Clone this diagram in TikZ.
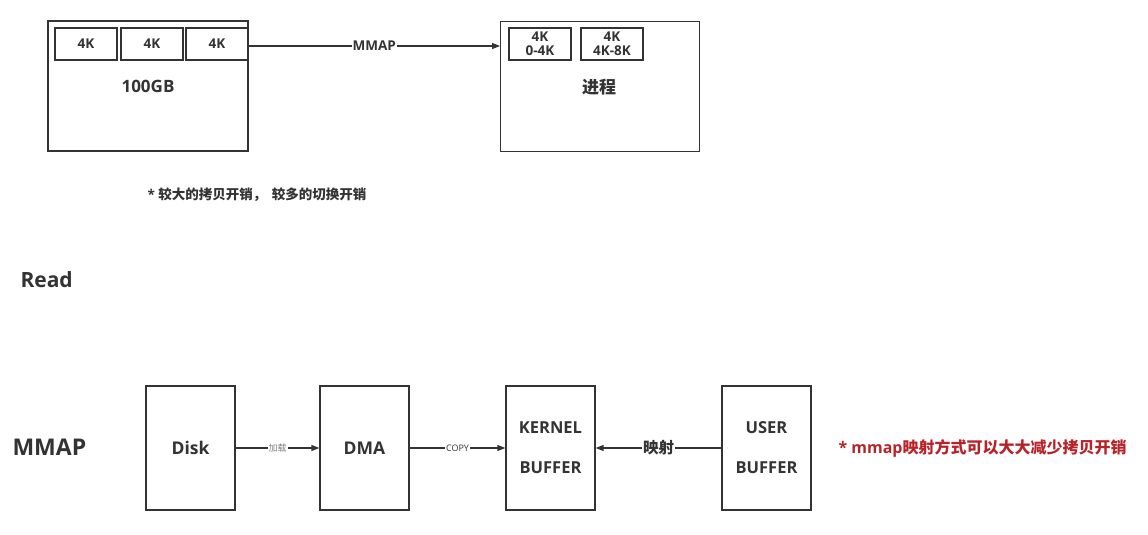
\documentclass[tikz,border=0pt]{standalone}
\usepackage{fontspec}
\setmainfont{Open Sans}
\newfontfamily\cjk{Noto Sans CJK SC}
\usetikzlibrary{arrows.meta}
\definecolor{ink}{HTML}{333333}
\definecolor{note}{HTML}{B8232A}
\tikzset{
  box/.style={draw=ink, line width=1.2pt, fill=white},
  lbl/.style={text=ink, font=\bfseries},
  conn/.style={draw=ink, line width=1.2pt, -{Triangle[length=8pt,width=6pt]}},
  onl/.style={fill=white, inner sep=1pt, text=ink},
}
\begin{document}
\begin{tikzpicture}[x=1pt,y=-1pt]
\useasboundingbox (0,0) rectangle (1148,535);
% top-left block
\draw[box] (48,21) rectangle (248,151);
\node[lbl, font=\bfseries\fontsize{17}{19}\selectfont] (gb) at (148,86) {100GB};
\node[box, minimum width=62pt, minimum height=32pt, lbl, font=\bfseries\fontsize{13.5}{15}\selectfont] (k1) at (86,44) {4K};
\node[box, minimum width=62pt, minimum height=32pt, lbl, font=\bfseries\fontsize{13.5}{15}\selectfont] (k2) at (152,44) {4K};
\node[box, minimum width=62pt, minimum height=32pt, lbl, font=\bfseries\fontsize{13.5}{15}\selectfont] (k3) at (217,44) {4K};
% process block
\node[box, minimum width=199pt, minimum height=130pt, anchor=north west] (proc) at (500,21) {};
\node[lbl, font=\cjk\bfseries\fontsize{17}{19}\selectfont] at (599,87) {进程};
\node[box, minimum width=62pt, minimum height=32pt, lbl, align=center, inner sep=0pt, font=\bfseries\fontsize{13.5}{14}\selectfont] (p1) at (540,44) {4K\\0-4K};
\node[box, minimum width=62pt, minimum height=32pt, lbl, align=center, inner sep=0pt, font=\bfseries\fontsize{13.5}{14}\selectfont] (p2) at (612,44) {4K\\4K-8K};
\coordinate (pin) at (500,46);
\draw[conn] (k3.east |- 0,46) -- node[onl, font=\bfseries\fontsize{13.5}{15}\selectfont]{MMAP} (pin);
% note
\node[lbl, anchor=west, font=\bfseries\fontsize{13.5}{15}\selectfont] (n1) at (144,195) {* {\cjk\bfseries 较大的拷贝开销，\hspace{0.4em}较多的切换开销}};
% headings
\node[lbl, anchor=west, font=\bfseries\fontsize{21}{23}\selectfont] (read) at (17,280) {Read};
\node[lbl, anchor=west, font=\bfseries\fontsize{23}{25}\selectfont] (mm) at (9,447) {MMAP};
% bottom chain
\tikzset{big/.style={box, minimum width=89pt, minimum height=124pt, lbl, align=center}}
\node[big, font=\bfseries\fontsize{17.5}{19}\selectfont] (disk) at (190.5,448) {Disk};
\node[big, font=\bfseries\fontsize{17.5}{19}\selectfont] (dma) at (364.5,448) {DMA};
\node[big, font=\bfseries\fontsize{16.5}{40}\selectfont] (kb) at (550.5,448) {KERNEL\\BUFFER};
\node[big, font=\bfseries\fontsize{16.5}{40}\selectfont] (ub) at (766.5,448) {USER\\BUFFER};
\draw[conn] (disk) -- node[onl, text=gray, font=\cjk\fontsize{9}{10}\selectfont]{加载} (dma);
\draw[conn] (dma) -- node[onl, font=\fontsize{9}{10}\selectfont]{COPY} (kb);
\draw[conn] (ub) -- node[onl, font=\cjk\bfseries\fontsize{15.5}{17}\selectfont]{映射} (kb);
\node[anchor=west, text=note, font=\bfseries\fontsize{16}{18}\selectfont] (red) at (835,448) {* mmap{\cjk\bfseries 映射方式可以大大减少拷贝开销}};
\end{tikzpicture}
\end{document}
